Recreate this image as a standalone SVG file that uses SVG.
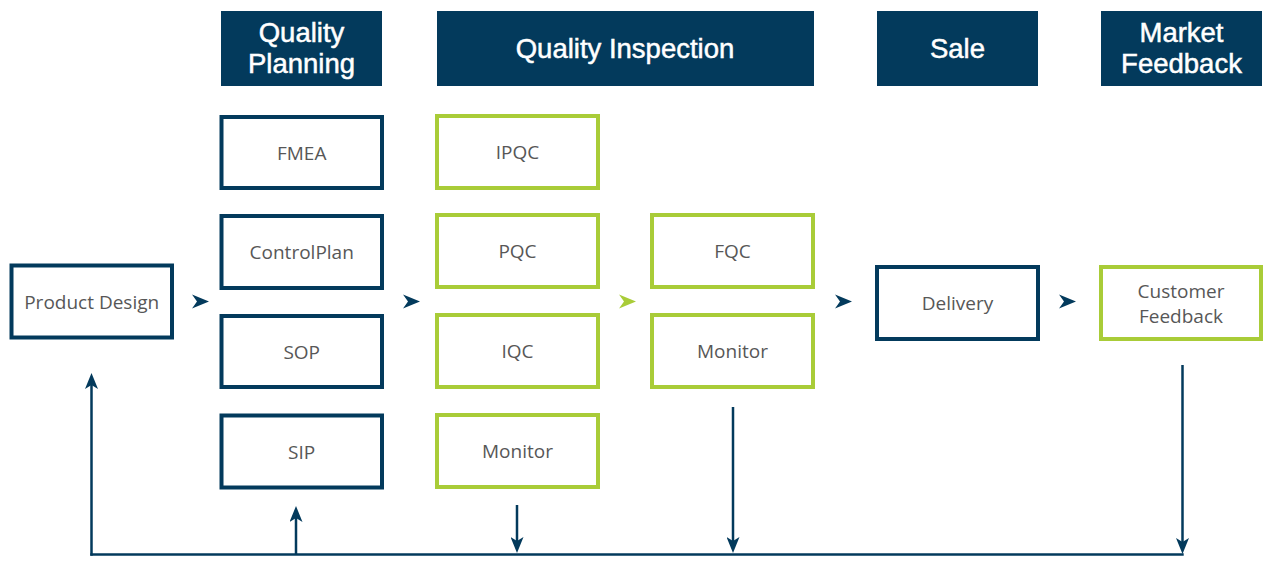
<svg xmlns="http://www.w3.org/2000/svg" width="1263" height="562" viewBox="0 0 1263 562">
<style>
.hdr{fill:#033a5c}
.ht{fill:#fff;stroke:#fff;stroke-width:0.5;font-family:"Liberation Sans",Arial,sans-serif;font-size:27.5px;text-anchor:middle}
.nb{fill:#fff;stroke:#033a5c;stroke-width:4}
.gb{fill:#fff;stroke:#a9cc38;stroke-width:4}
.bt{fill:#575757;font-family:"Open Sans","Noto Sans",sans-serif;font-size:19px;text-anchor:middle}
.ln{fill:none;stroke:#033a5c;stroke-width:2.5}
.chev{fill:#033a5c}
.chevg{fill:#a9cc38}
</style>
<defs>
<marker id="ah" viewBox="0 0 16 13" markerWidth="16" markerHeight="13" refX="4" refY="6.5" orient="auto" markerUnits="userSpaceOnUse">
<path d="M0,0 L16,6.5 L0,13 L4,6.5 Z" fill="#033a5c"/>
</marker>
</defs>

<g id="header-quality-planning"><rect class="hdr" x="221" y="11" width="161" height="75"/><text class="ht" x="301.5" y="42">Quality</text><text class="ht" x="301.5" y="73">Planning</text></g>
<g id="header-quality-inspection"><rect class="hdr" x="437" y="11" width="377" height="75"/><text class="ht" x="625" y="57.5">Quality Inspection</text></g>
<g id="header-sale"><rect class="hdr" x="877" y="11" width="161" height="75"/><text class="ht" x="957.5" y="57.5">Sale</text></g>
<g id="header-market-feedback"><rect class="hdr" x="1101" y="11" width="161" height="75"/><text class="ht" x="1181.5" y="42">Market</text><text class="ht" x="1181.5" y="73">Feedback</text></g>

<g id="product-design"><rect class="nb" x="11.5" y="265.5" width="160.5" height="72"/><text class="bt" x="91.7" y="309">Product Design</text></g>

<g id="fmea"><rect class="nb" x="221.5" y="117" width="160.5" height="71"/><text class="bt" x="301.7" y="160">FMEA</text></g>
<g id="controlplan"><rect class="nb" x="221.5" y="216" width="160.5" height="72"/><text class="bt" x="301.7" y="259">ControlPlan</text></g>
<g id="sop"><rect class="nb" x="221.5" y="316" width="160.5" height="71"/><text class="bt" x="301.7" y="359">SOP</text></g>
<g id="sip"><rect class="nb" x="221.5" y="415.5" width="160.5" height="72"/><text class="bt" x="301.7" y="458.5">SIP</text></g>

<g id="ipqc"><rect class="gb" x="437" y="116" width="161" height="72"/><text class="bt" x="517.5" y="159">IPQC</text></g>
<g id="pqc"><rect class="gb" x="437" y="215" width="161" height="72"/><text class="bt" x="517.5" y="258">PQC</text></g>
<g id="iqc"><rect class="gb" x="437" y="315" width="161" height="72"/><text class="bt" x="517.5" y="358">IQC</text></g>
<g id="monitor-1"><rect class="gb" x="437" y="415" width="161" height="72"/><text class="bt" x="517.5" y="458">Monitor</text></g>

<g id="fqc"><rect class="gb" x="652" y="215" width="161" height="72"/><text class="bt" x="732.5" y="258">FQC</text></g>
<g id="monitor-2"><rect class="gb" x="652" y="315" width="161" height="72"/><text class="bt" x="732.5" y="358">Monitor</text></g>

<g id="delivery"><rect class="nb" x="877" y="267" width="161" height="72"/><text class="bt" x="957.5" y="310">Delivery</text></g>
<g id="customer-feedback"><rect class="gb" x="1101" y="267" width="160" height="72"/><text class="bt" x="1181" y="298">Customer</text><text class="bt" x="1181" y="322.5">Feedback</text></g>

<g id="connectors">
<path class="chev" d="M192,294.5 L209,301.5 L192,308.5 L197,301.5 Z"/>
<path class="chev" d="M403,294.5 L420,301.5 L403,308.5 L408,301.5 Z"/>
<path class="chevg" d="M619,294.5 L636,301.5 L619,308.5 L624,301.5 Z"/>
<path class="chev" d="M835,294.5 L852,301.5 L835,308.5 L840,301.5 Z"/>
<path class="chev" d="M1059,294.5 L1076,301.5 L1059,308.5 L1064,301.5 Z"/>
<path class="ln" d="M90.3,554.5 H1183.7"/>
<path class="ln" d="M91.5,555.7 V385" marker-end="url(#ah)"/>
<path class="ln" d="M296,554 V518" marker-end="url(#ah)"/>
<path class="ln" d="M517,505 V541" marker-end="url(#ah)"/>
<path class="ln" d="M733,407 V541" marker-end="url(#ah)"/>
<path class="ln" d="M1182.5,365 V542" marker-end="url(#ah)"/>
</g>
</svg>
